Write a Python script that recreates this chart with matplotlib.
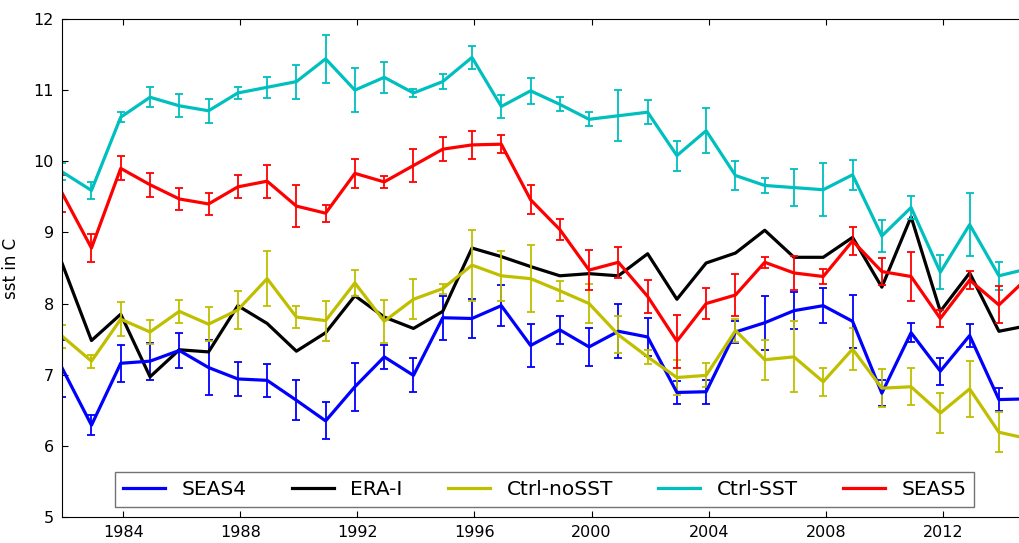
import matplotlib
matplotlib.use("Agg")
import matplotlib.dates as mdates
import matplotlib.pyplot as plt
import pandas as pd

# winter seasons 1982-2015, each stamped at the December that opens it
years = list(range(1982, 2016))
season_start = pd.to_datetime([f"{y - 1}-12-01" for y in years])

era_i = [8.56, 7.48, 7.85, 6.97, 7.35, 7.32, 7.97, 7.72, 7.33, 7.59,
         8.11, 7.81, 7.65, 7.89, 8.78, 8.66, 8.52, 8.39, 8.42, 8.39,
         8.70, 8.06, 8.57, 8.71, 9.03, 8.65, 8.65, 8.93, 8.23, 9.22,
         7.89, 8.43, 7.61, 7.69]

seas4 = [7.09, 6.29, 7.16, 7.19, 7.34, 7.10, 6.94, 6.92, 6.64, 6.35,
         6.83, 7.25, 6.99, 7.80, 7.79, 7.97, 7.41, 7.63, 7.39, 7.61,
         7.53, 6.75, 6.76, 7.60, 7.73, 7.90, 7.97, 7.75, 6.74, 7.59,
         7.05, 7.55, 6.65, 6.66]
seas4_err = [0.40, 0.14, 0.26, 0.26, 0.24, 0.39, 0.24, 0.23, 0.28, 0.26,
             0.34, 0.17, 0.24, 0.31, 0.27, 0.29, 0.30, 0.20, 0.27, 0.38,
             0.27, 0.16, 0.17, 0.16, 0.38, 0.26, 0.25, 0.37, 0.18, 0.13,
             0.19, 0.16, 0.16, 0.16]

ctrl_nosst = [7.54, 7.19, 7.78, 7.60, 7.89, 7.71, 7.91, 8.35, 7.81, 7.76,
              8.29, 7.75, 8.06, 8.21, 8.54, 8.39, 8.35, 8.18, 8.00, 7.56,
              7.25, 6.96, 6.99, 7.62, 7.21, 7.25, 6.90, 7.36, 6.81, 6.83,
              6.46, 6.80, 6.19, 6.10]
ctrl_nosst_err = [0.16, 0.09, 0.24, 0.17, 0.16, 0.24, 0.27, 0.39, 0.16, 0.28,
                  0.18, 0.30, 0.28, 0.07, 0.50, 0.35, 0.47, 0.14, 0.27, 0.26,
                  0.10, 0.25, 0.17, 0.16, 0.28, 0.50, 0.20, 0.29, 0.27, 0.26,
                  0.28, 0.39, 0.28, 0.28]

ctrl_sst = [9.85, 9.59, 10.62, 10.90, 10.78, 10.71, 10.96, 11.04, 11.12, 11.44,
            11.00, 11.18, 10.96, 11.12, 11.46, 10.77, 10.99, 10.80, 10.59, 10.64,
            10.69, 10.08, 10.43, 9.80, 9.66, 9.63, 9.60, 9.81, 8.95, 9.35,
            8.44, 9.11, 8.39, 8.49]
ctrl_sst_err = [0.12, 0.12, 0.07, 0.14, 0.16, 0.17, 0.09, 0.15, 0.24, 0.34,
                0.31, 0.22, 0.06, 0.11, 0.16, 0.16, 0.18, 0.10, 0.10, 0.36,
                0.17, 0.21, 0.32, 0.20, 0.10, 0.26, 0.37, 0.21, 0.23, 0.16,
                0.24, 0.44, 0.20, 0.20]

seas5 = [9.55, 8.78, 9.90, 9.67, 9.47, 9.40, 9.64, 9.72, 9.37, 9.27,
         9.83, 9.71, 9.94, 10.17, 10.23, 10.24, 9.46, 9.04, 8.47, 8.58,
         8.10, 7.47, 8.00, 8.12, 8.58, 8.43, 8.38, 8.88, 8.45, 8.38,
         7.79, 8.33, 7.98, 8.37]
seas5_err = [0.26, 0.20, 0.17, 0.17, 0.15, 0.16, 0.16, 0.23, 0.29, 0.12,
             0.20, 0.08, 0.23, 0.17, 0.20, 0.13, 0.20, 0.15, 0.28, 0.22,
             0.23, 0.37, 0.22, 0.29, 0.08, 0.24, 0.10, 0.20, 0.19, 0.35,
             0.12, 0.13, 0.26, 0.25]

# (label, values, errors, colour) in legend order
runs = [
    ("SEAS4", seas4, seas4_err, "b"),
    ("ERA-I", era_i, None, "k"),
    ("Ctrl-noSST", ctrl_nosst, ctrl_nosst_err, "y"),
    ("Ctrl-SST", ctrl_sst, ctrl_sst_err, "c"),
    ("SEAS5", seas5, seas5_err, "r"),
]

plt.rcParams["font.family"] = "DejaVu Sans"

fig = plt.figure(figsize=(10.2, 5.43), dpi=100)
ax = fig.add_axes([0.061, 0.048, 0.947, 0.917])

handles = []
for label, vals, err, col in runs:
    if err is None:
        line, = ax.plot(season_start, vals, color=col, lw=2.3)
    else:
        eb = ax.errorbar(season_start, vals, yerr=err, color=col, lw=2.3,
                         elinewidth=1.3, capsize=3, capthick=1.3)
        line = eb.lines[0]
    handles.append(line)

ax.set_xlim(season_start[0], season_start[-1])
ax.set_ylim(5, 12)
ax.xaxis.set_major_locator(mdates.YearLocator(4))
ax.xaxis.set_major_formatter(mdates.DateFormatter("%Y"))
ax.tick_params(direction="in", top=True, right=True, length=4.5,
               labelsize=11.5, pad=6)
ax.set_ylabel("sst in C", fontsize=12)
ax.yaxis.set_label_coords(-0.044, 0.5)

leg = ax.legend(handles, [r[0] for r in runs], ncol=5, loc="lower center",
                bbox_to_anchor=(0.534, 0.066), bbox_transform=fig.transFigure,
                fontsize=14.5, fancybox=False, framealpha=1, borderaxespad=0,
                columnspacing=2.25, handlelength=2.1)
leg.get_frame().set_edgecolor("0.45")

fig.savefig("out.png", dpi=100)
